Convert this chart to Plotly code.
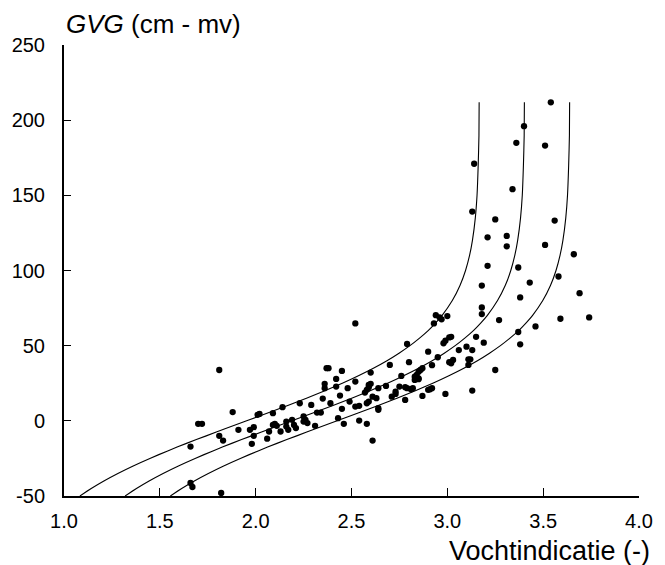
import plotly.graph_objects as go

# Scatter data: Vochtindicatie (x) vs GVG (y)
vi = [1.81, 1.88, 1.70, 1.72, 1.66, 1.81, 1.83, 1.91, 1.66, 1.67, 1.82, 1.97, 1.99, 1.99, 1.98,
      2.01, 2.02, 2.06, 2.07, 2.09, 2.09, 2.10, 2.11, 2.13, 2.14, 2.16, 2.16, 2.17, 2.19, 2.20,
      2.21, 2.23, 2.25, 2.25, 2.26, 2.27, 2.29, 2.31, 2.32, 2.34, 2.35, 2.36, 2.36, 2.37, 2.38,
      2.39, 2.42, 2.42, 2.44, 2.45, 2.43, 2.45, 2.46, 2.48, 2.49, 2.52, 2.52, 2.52, 2.54, 2.54,
      2.58, 2.58, 2.59, 2.59, 2.57, 2.60, 2.60, 2.58, 2.59, 2.61, 2.63, 2.64, 2.64, 2.64, 2.61,
      2.68, 2.70, 2.71, 2.73, 2.73, 2.75, 2.76, 2.78, 2.79, 2.78, 2.80, 2.79, 2.81, 2.82, 2.83,
      2.84, 2.85, 2.83, 2.85, 2.85, 2.86, 2.87, 2.87, 2.90, 2.90, 2.91, 2.92, 2.92, 2.95, 2.94,
      2.96, 2.97, 2.93, 2.98, 2.99, 3.00, 3.01, 3.02, 3.01, 3.02, 2.99, 3.03, 3.06, 3.10, 3.11,
      3.12, 3.11, 3.13, 3.13, 3.15, 3.18, 3.18, 3.19, 3.21, 3.18, 3.27, 3.25, 3.37, 3.43, 3.38,
      3.37, 3.38, 3.46, 3.58, 3.66, 3.69, 3.59, 3.74, 3.54, 3.40, 3.36, 3.51, 3.14, 3.34, 3.13,
      3.25, 3.56, 3.21, 3.31, 3.31, 3.51]
gvg = [33.8, 5.8, -2.0, -2.0, -17.1, -10.0, -13.1, -6.0, -41.3, -44.0, -48.0, -6.0, -4.2, -10.0, -15.3,
       4.0, 4.6, -11.9, -7.1, 5.1, -2.7, -2.0, -3.3, -7.1, 9.1, -0.5, -3.8, -6.0, 0.7, -2.7,
       -4.8, 11.7, 2.9, -0.5, 0.7, -1.5, 10.6, -3.3, 5.5, 5.5, 14.8, 21.7, 24.6, 35.0, 35.0,
       11.7, 27.9, 22.8, 16.8, 8.0, 1.8, 33.2, -2.0, 21.7, 12.8, 26.1, 9.5, 64.8, 0.2, 10.0,
       -2.0, 20.6, 22.4, 23.9, 18.8, 24.6, 32.1, 11.7, 12.8, 16.1, 15.1, 21.7, 7.3, 8.4, -13.1,
       23.2, 37.2, 16.1, 19.4, 17.9, 22.8, 29.9, 22.4, 21.7, 13.9, 39.0, 51.1, 21.0, 21.7, 29.4,
       30.5, 28.3, 27.2, 27.7, 32.7, 33.8, 35.0, 16.6, 46.0, 20.6, 21.0, 21.7, 37.0, 42.3, 70.3,
       68.8, 67.5, 64.8, 51.6, 53.3, 69.7, 55.5, 55.9, 39.0, 38.3, 17.9, 40.5, 47.1, 49.3, 40.9,
       40.9, 37.2, 47.1, 20.1, 55.9, 75.4, 71.0, 52.0, 103.1, 90.0, 67.0, 33.8, 102.0, 92.0, 82.1,
       59.1, 50.9, 62.8, 96.0, 110.8, 84.9, 67.9, 68.8, 211.9, 196.0, 184.9, 183.1, 171.0, 154.1, 139.2,
       134.0, 133.2, 122.1, 123.0, 116.1, 117.0]

# Model curves: GVG levels and the Vochtindicatie of each curve
curve_gvg = [-50, -45, -40, -35, -30, -25, -20, -15, -10, -5, 0, 5, 10, 15, 20, 25, 30, 35, 40,
             45, 50, 55, 60, 65, 70, 80, 90, 100, 110, 120, 135, 150, 170, 190, 212]
curve_left = [1.083, 1.142, 1.208, 1.281, 1.361, 1.448, 1.541, 1.639, 1.742, 1.847, 1.953, 2.059,
              2.164, 2.265, 2.361, 2.452, 2.536, 2.614, 2.685, 2.748, 2.805, 2.855, 2.900, 2.938,
              2.972, 3.026, 3.066, 3.095, 3.116, 3.131, 3.146, 3.155, 3.161, 3.165, 3.166]
curve_mid = [1.319, 1.378, 1.444, 1.517, 1.597, 1.684, 1.777, 1.875, 1.978, 2.083, 2.189, 2.295,
             2.400, 2.501, 2.597, 2.688, 2.772, 2.850, 2.921, 2.984, 3.041, 3.091, 3.136, 3.174,
             3.208, 3.262, 3.302, 3.331, 3.352, 3.367, 3.382, 3.391, 3.397, 3.401, 3.402]
curve_right = [1.555, 1.614, 1.680, 1.753, 1.833, 1.920, 2.013, 2.111, 2.214, 2.319, 2.425, 2.531,
               2.636, 2.737, 2.833, 2.924, 3.008, 3.086, 3.157, 3.220, 3.277, 3.327, 3.372, 3.410,
               3.444, 3.498, 3.538, 3.567, 3.588, 3.603, 3.618, 3.627, 3.633, 3.637, 3.638]

x_ticks = [1.0, 1.5, 2.0, 2.5, 3.0, 3.5, 4.0]
y_ticks = [-50, 0, 50, 100, 150, 200, 250]

FONT = "Liberation Sans, Arial, sans-serif"

fig = go.Figure()
for cx in (curve_left, curve_mid, curve_right):
    fig.add_trace(go.Scatter(x=cx, y=curve_gvg, mode="lines",
                             line=dict(color="black", width=1.1, shape="spline", smoothing=0.6),
                             hoverinfo="skip", showlegend=False))
fig.add_trace(go.Scatter(x=vi, y=gvg, mode="markers", marker=dict(color="black", size=6.3),
                         showlegend=False, cliponaxis=False))

fig.update_layout(
    width=665, height=565,
    margin=dict(l=60, r=15, t=45, b=69, pad=0),
    paper_bgcolor="white", plot_bgcolor="white",
    font=dict(family=FONT, color="black", size=20),
    xaxis=dict(range=[1, 4], tickvals=x_ticks, ticktext=[f"{v:.1f}" for v in x_ticks],
               ticks="inside", ticklen=8, tickwidth=1, tickcolor="black",
               showline=True, linewidth=2, linecolor="black", showgrid=False, zeroline=False,
               tickfont=dict(size=20), ticklabelstandoff=6),
    yaxis=dict(range=[-50, 250], tickvals=y_ticks, ticktext=[str(v) for v in y_ticks],
               ticks="inside", ticklen=7, tickwidth=1, tickcolor="black",
               showline=True, linewidth=2, linecolor="black", showgrid=False, zeroline=False,
               tickfont=dict(size=20), ticklabelstandoff=13),
    annotations=[
        dict(text="<i>GVG</i> (cm - mv)", xref="paper", yref="paper", x=0.0, y=1.047,
             xanchor="left", yanchor="middle", showarrow=False, font=dict(size=26)),
        dict(text="Vochtindicatie (-)", xref="paper", yref="paper", x=1.0225, y=-0.123,
             xanchor="right", yanchor="middle", showarrow=False, font=dict(size=27)),
    ],
)

fig.write_html("out.html")
